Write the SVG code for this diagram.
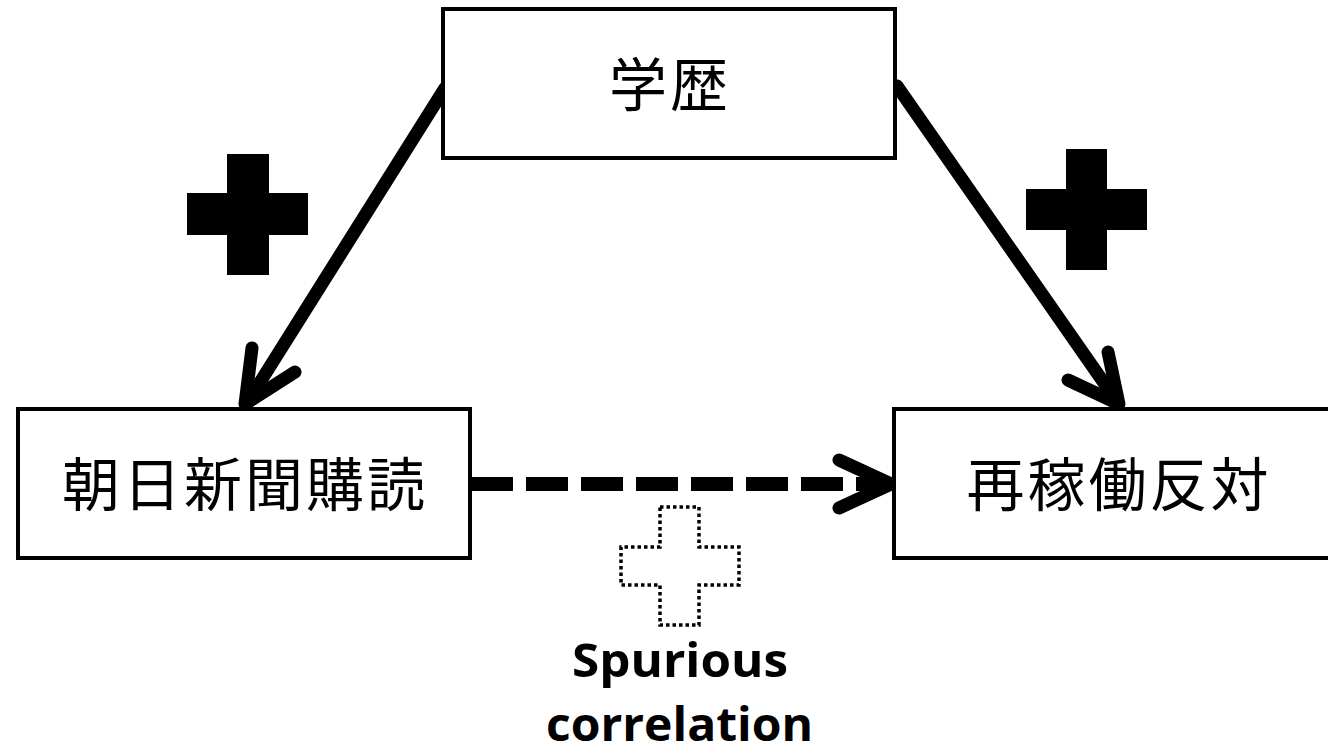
<svg xmlns="http://www.w3.org/2000/svg" width="1328" height="755" viewBox="0 0 1328 755">
<style>
.box{fill:#fff;stroke:#000;stroke-width:4}
.jp{font-family:"Noto Sans CJK JP","Noto Sans CJK SC",sans-serif;font-size:58px;fill:#000;text-anchor:middle;letter-spacing:3px}
.arrow{fill:none;stroke:#000;stroke-width:13;stroke-linecap:round;stroke-linejoin:round}
.en{font-family:"Open Sans","Liberation Sans",sans-serif;font-weight:bold;font-size:47px;fill:#000}
</style>
<rect width="1328" height="755" fill="#fff"/>
<g id="connectors">
<line class="arrow" x1="445" y1="88" x2="247" y2="403" stroke-linecap="butt"/>
<polyline class="arrow" points="252,348 245,404 295,372"/>
<line class="arrow" x1="897" y1="86" x2="1118" y2="403" stroke-linecap="butt"/>
<polyline class="arrow" points="1108,352 1119,404 1068,380"/>
<line x1="471" y1="484" x2="880" y2="484" stroke="#000" stroke-width="14" stroke-dasharray="42 13"/>
<polyline class="arrow" stroke-width="14" points="839,460 891,484 839,508"/>
</g>
<g id="node-gakureki">
<rect class="box" x="443" y="9" width="452" height="149"/>
<text class="jp" x="670" y="106">学歴</text>
</g>
<g id="node-asahi">
<rect class="box" x="18" y="409" width="452" height="149"/>
<text class="jp" x="245" y="506">朝日新聞購読</text>
</g>
<g id="node-saikado">
<rect class="box" x="894" y="409" width="440" height="149"/>
<text class="jp" x="1119" y="506">再稼働反対</text>
</g>
<g id="plus-left">
<path d="M227,154 H269 V193 H308 V235 H269 V275 H227 V235 H187 V193 H227 Z" fill="#000"/>
</g>
<g id="plus-right">
<path d="M1066,149 H1107 V189 H1147 V230 H1107 V270 H1066 V230 H1026 V189 H1066 Z" fill="#000"/>
</g>
<g id="plus-dotted">
<path d="M660,507 H699 V547 H739 V585 H699 V625 H660 V585 H621 V547 H660 Z" fill="none" stroke="#000" stroke-width="3.5" stroke-dasharray="3.5 3"/>
</g>
<g id="label-spurious">
<text class="en" x="572" y="677" textLength="216" lengthAdjust="spacingAndGlyphs">Spurious</text>
<text class="en" x="546" y="741" textLength="267" lengthAdjust="spacingAndGlyphs">correlation</text>
</g>
</svg>
